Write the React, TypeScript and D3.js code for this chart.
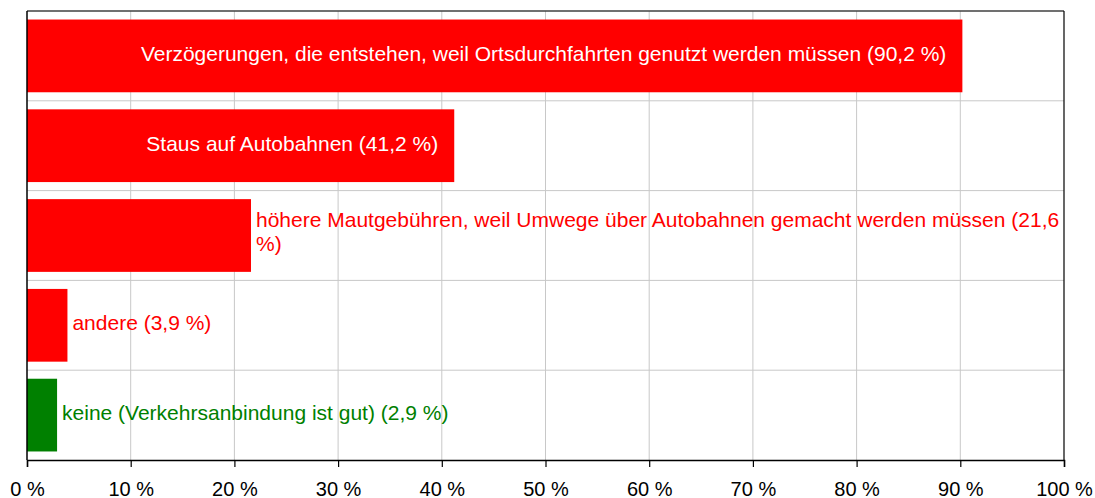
import * as React from 'react'
import * as d3 from 'd3'

const categories = [
  'Verzögerungen, die entstehen, weil Ortsdurchfahrten genutzt werden müssen',
  'Staus auf Autobahnen',
  'höhere Mautgebühren, weil Umwege über Autobahnen gemacht werden müssen',
  'andere',
  'keine (Verkehrsanbindung ist gut)',
]
const values = [90.2, 41.2, 21.6, 3.9, 2.9]
const barColors = ['#ff0000', '#ff0000', '#ff0000', '#ff0000', '#008000']
const xTicks = [0, 10, 20, 30, 40, 50, 60, 70, 80, 90, 100]

const W = 1095
const H = 498
const margin = { top: 11, right: 31, bottom: 38, left: 27 }
const FONT = '"Liberation Sans", Arial, sans-serif'

const fmt = (v: number) => `${String(v).replace('.', ',')} %`

export default function App() {
  const ref = React.useRef<SVGSVGElement>(null)

  React.useEffect(() => {
    const svg = d3.select(ref.current)
    svg.selectAll('*').remove()

    const x = d3.scaleLinear().domain([0, 100]).range([margin.left, W - margin.right])
    const y = d3
      .scaleBand()
      .domain(categories.map((d, i) => String(i)))
      .range([margin.top, H - margin.bottom])
      .paddingInner(0.19)
      .paddingOuter(0.095)

    const step = y.step()
    const x0 = x(0)
    const x1 = x(100)
    const yTop = margin.top
    const yBottom = H - margin.bottom

    // grid
    svg
      .append('g')
      .selectAll('line')
      .data(xTicks.slice(1, -1))
      .enter()
      .append('line')
      .attr('x1', (d) => x(d))
      .attr('x2', (d) => x(d))
      .attr('y1', yTop)
      .attr('y2', yBottom)
      .attr('stroke', '#c8c8c8')
      .attr('stroke-width', 1)

    svg
      .append('g')
      .selectAll('line')
      .data(d3.range(1, categories.length))
      .enter()
      .append('line')
      .attr('x1', x0)
      .attr('x2', x1)
      .attr('y1', (d) => yTop + d * step)
      .attr('y2', (d) => yTop + d * step)
      .attr('stroke', '#c8c8c8')
      .attr('stroke-width', 1)

    // bars
    svg
      .append('g')
      .selectAll('rect')
      .data(values)
      .enter()
      .append('rect')
      .attr('x', x0)
      .attr('y', (d, i) => y(String(i)) as number)
      .attr('width', (d) => x(d) - x0)
      .attr('height', y.bandwidth())
      .attr('fill', (d, i) => barColors[i])

    // frame
    svg
      .append('line')
      .attr('x1', x0)
      .attr('x2', x1)
      .attr('y1', yTop)
      .attr('y2', yTop)
      .attr('stroke', '#404040')
      .attr('stroke-width', 1.5)
    svg
      .append('line')
      .attr('x1', x1)
      .attr('x2', x1)
      .attr('y1', yTop)
      .attr('y2', yBottom)
      .attr('stroke', '#000')
      .attr('stroke-width', 1.2)

    // axes
    const axis = svg
      .append('g')
      .attr('transform', `translate(0,${yBottom})`)
      .call(
        d3
          .axisBottom(x)
          .tickValues(xTicks)
          .tickSize(7)
          .tickPadding(15)
          .tickFormat((d) => `${d} %`)
      )
    axis.select('.domain').attr('stroke', '#000').attr('stroke-width', 1.5)
    axis.selectAll('.tick line').attr('stroke', '#000').attr('stroke-width', 1.2)
    axis
      .selectAll('.tick text')
      .attr('fill', '#000')
      .attr('font-size', 20)
      .attr('dy', '0.68em')
      .attr('font-family', FONT)

    svg
      .append('line')
      .attr('x1', x0)
      .attr('x2', x0)
      .attr('y1', yTop)
      .attr('y2', yBottom)
      .attr('stroke', '#000')
      .attr('stroke-width', 1.5)

    // labels
    const labels = svg.append('g').attr('font-family', FONT).attr('font-size', 21)
    values.forEach((v, i) => {
      const str = `${categories[i]} (${fmt(v)})`
      const cy = (y(String(i)) as number) + y.bandwidth() / 2
      const barEnd = x(v)
      const t = labels.append('text').attr('y', cy + 5).text(str)
      const len = (t.node() as SVGTextElement).getComputedTextLength()
      if (len + 32 < barEnd - x0) {
        t.attr('x', barEnd - 16).attr('text-anchor', 'end').attr('fill', '#fff')
        return
      }
      const lx = barEnd + 5
      t.attr('x', lx).attr('fill', barColors[i])
      const avail = x1 - lx
      if (len <= avail) return
      // wrap words
      const words = str.split(' ')
      const lines: string[] = []
      let cur = ''
      t.text('')
      const probe = t.append('tspan')
      words.forEach((w) => {
        const test = cur ? `${cur} ${w}` : w
        probe.text(test)
        if ((probe.node() as SVGTSpanElement).getComputedTextLength() > avail && cur) {
          lines.push(cur)
          cur = w
        } else {
          cur = test
        }
      })
      lines.push(cur)
      probe.remove()
      const lh = 24
      const start = cy + 3 - ((lines.length - 1) * lh) / 2
      lines.forEach((line, k) => {
        t.append('tspan')
          .attr('x', lx)
          .attr('y', start + k * lh)
          .text(line)
      })
    })
  }, [])

  return (
    <svg
      ref={ref}
      width={W}
      height={H}
      style={{ position: 'absolute', left: 0, top: 0, background: '#fff' }}
    />
  )
}
